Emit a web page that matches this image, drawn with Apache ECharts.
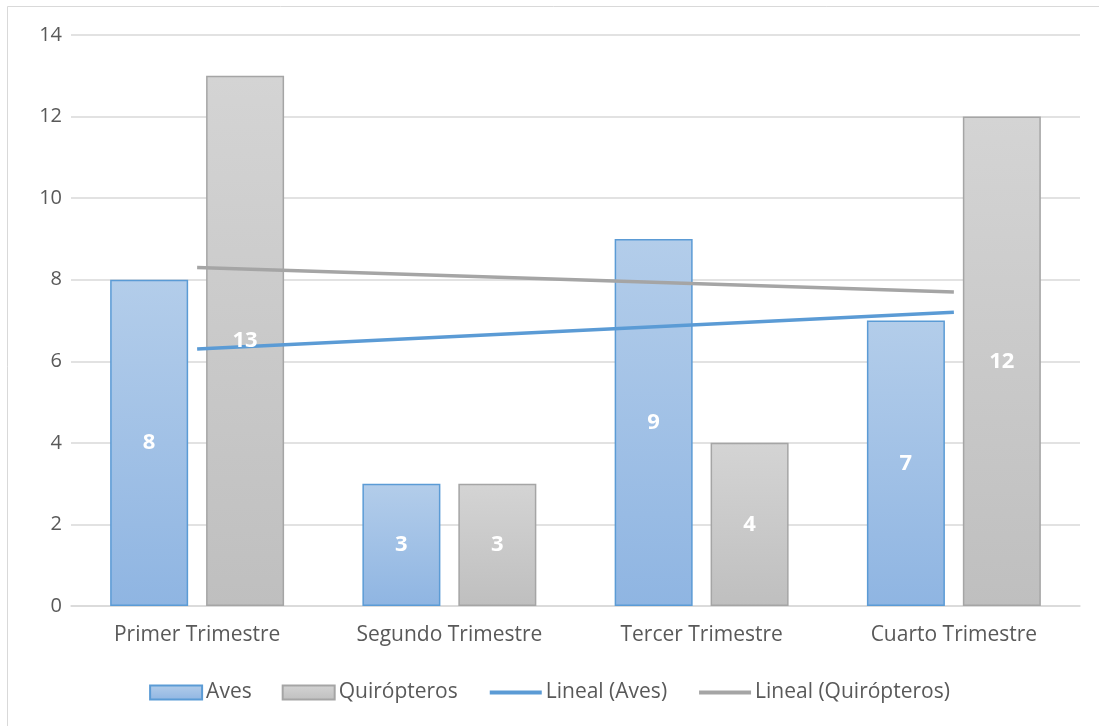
<!DOCTYPE html>
<html>
<head>
<meta charset="utf-8">
<script src="https://cdn.jsdelivr.net/npm/echarts@6/dist/echarts.min.js"></script>
<style>
  html, body { margin: 0; padding: 0; background: #fff; }
  #chart { width: 1099px; height: 726px; }
</style>
</head>
<body>
<div id="chart"></div>
<script>
// Quarterly counts
const categories = ['Primer Trimestre', 'Segundo Trimestre', 'Tercer Trimestre', 'Cuarto Trimestre'];
const aves = [8, 3, 9, 7];
const quiropteros = [13, 3, 4, 12];
// Linear trend lines: first and last quarter values
const linealAves = [6.3, null, null, 7.2];
const linealQuiropteros = [8.3, null, null, 7.7];

const FONT = '"Open Sans", "DejaVu Sans", sans-serif';
const TEXT = '#595959';
const BAR_W = 78;
const BAR_GAP = '23%';

function vGrad(top, bottom) {
  return new echarts.graphic.LinearGradient(0, 0, 0, 1, [
    { offset: 0, color: top },
    { offset: 1, color: bottom }
  ]);
}

const barLabel = {
  show: true,
  position: 'inside',
  color: '#ffffff',
  fontFamily: FONT,
  fontWeight: 'bold',
  fontSize: 22
};

// Transparent copy of a bar series on an overlay axis: carries the value labels above the trend lines
function labelLayer(id, values) {
  return {
    id: id,
    type: 'bar',
    xAxisIndex: 1,
    data: values,
    barWidth: BAR_W,
    barGap: BAR_GAP,
    z: 4,
    silent: true,
    itemStyle: { color: 'rgba(0,0,0,0)' },
    label: barLabel
  };
}

const chart = echarts.init(document.getElementById('chart'), null, { renderer: 'canvas' });
chart.setOption({
  backgroundColor: '#ffffff',
  animation: false,
  graphic: [{
    type: 'rect',
    shape: { x: 7.5, y: 6.5, width: 1100, height: 730 },
    style: { fill: 'none', stroke: '#d9d9d9', lineWidth: 1 },
    silent: true
  }],
  grid: { left: 71, right: 19, top: 35, bottom: 120 },
  legend: {
    top: 677,
    left: 'center',
    itemWidth: 52,
    itemHeight: 14,
    itemGap: 30,
    textStyle: { color: TEXT, fontFamily: FONT, fontSize: 21, padding: [0, 0, 0, -1] },
    data: [
      { name: 'Aves', icon: 'rect' },
      { name: 'Quirópteros', icon: 'rect' },
      { name: 'Lineal (Aves)', itemStyle: { opacity: 0 }, lineStyle: { width: 4 } },
      { name: 'Lineal (Quirópteros)', itemStyle: { opacity: 0 }, lineStyle: { width: 4 } }
    ]
  },
  xAxis: [
    {
      type: 'category',
      data: categories,
      axisLine: { lineStyle: { color: '#d9d9d9', width: 1.5 } },
      axisTick: { show: false },
      axisLabel: { color: TEXT, fontFamily: FONT, fontSize: 21, margin: 19 }
    },
    {
      type: 'category',
      data: categories,
      show: false
    }
  ],
  yAxis: {
    type: 'value',
    min: 0,
    max: 14,
    interval: 2,
    axisLine: { show: false },
    axisTick: { show: false },
    axisLabel: { color: TEXT, fontFamily: FONT, fontSize: 20, margin: 9 },
    splitLine: { lineStyle: { color: '#d9d9d9', width: 1.5 } }
  },
  series: [
    {
      name: 'Aves',
      type: 'bar',
      data: aves,
      barWidth: BAR_W,
      barGap: BAR_GAP,
      z: 2,
      itemStyle: {
        color: vGrad('#b3cdea', '#8fb5e2'),
        borderColor: '#5b9bd5',
        borderWidth: 1.5
      }
    },
    {
      name: 'Quirópteros',
      type: 'bar',
      data: quiropteros,
      barWidth: BAR_W,
      barGap: BAR_GAP,
      z: 2,
      itemStyle: {
        color: vGrad('#d4d4d4', '#bfbfbf'),
        borderColor: '#a5a5a5',
        borderWidth: 1.5
      }
    },
    {
      name: 'Lineal (Aves)',
      type: 'line',
      data: linealAves,
      connectNulls: true,
      symbol: 'none',
      z: 3,
      color: '#5b9bd5',
      lineStyle: { color: '#5b9bd5', width: 3.5 }
    },
    {
      name: 'Lineal (Quirópteros)',
      type: 'line',
      data: linealQuiropteros,
      connectNulls: true,
      symbol: 'none',
      z: 3,
      color: '#a5a5a5',
      lineStyle: { color: '#a5a5a5', width: 3.5 }
    },
    labelLayer('avesLabels', aves),
    labelLayer('quiropterosLabels', quiropteros)
  ]
});
</script>
</body>
</html>
